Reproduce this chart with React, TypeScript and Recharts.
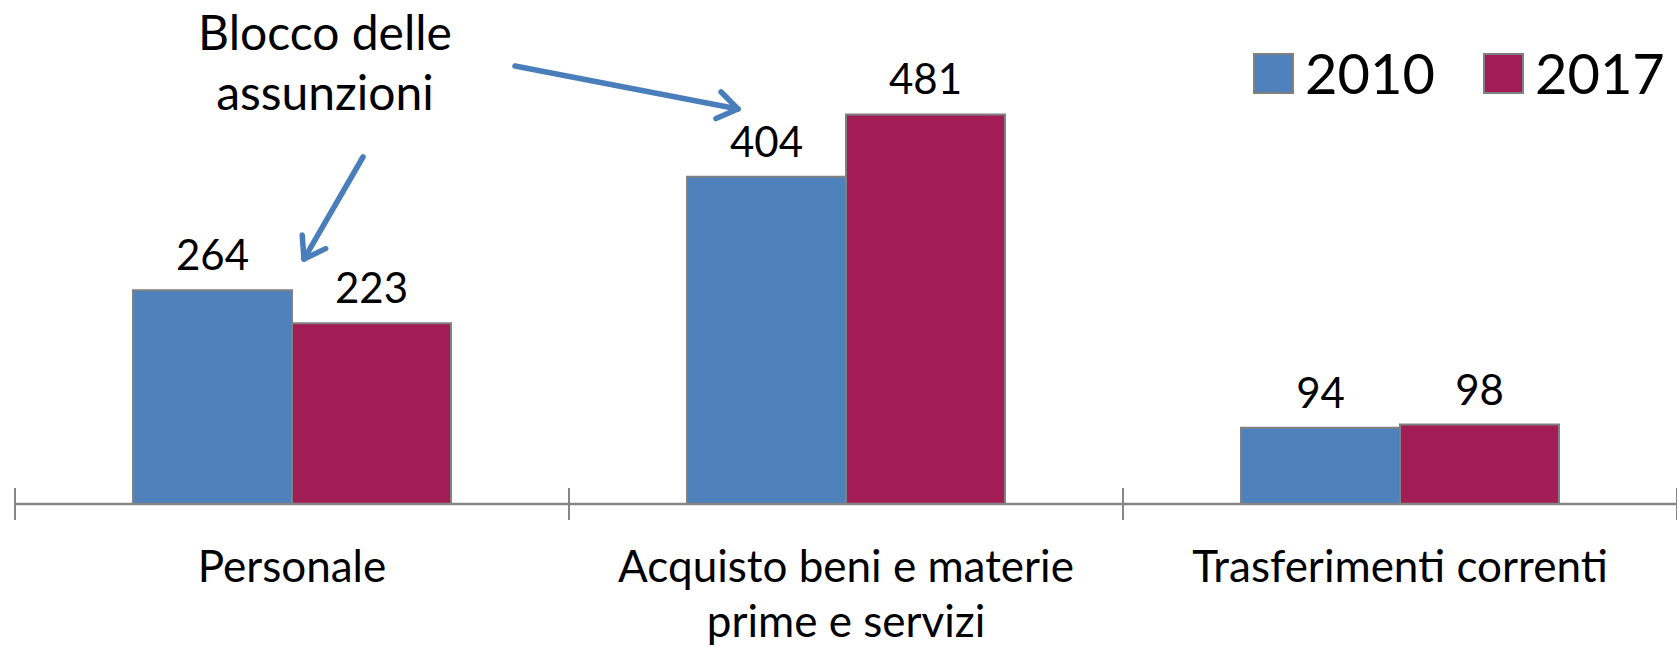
import { BarChart, Bar, XAxis, YAxis, LabelList, Legend } from 'recharts'

const CATEGORIES = ['Personale', 'Acquisto beni e materie prime e servizi', 'Trasferimenti correnti']
const VALUES_2010 = [264, 404, 94]
const VALUES_2017 = [223, 481, 98]
const SERIES = [
  { key: 'v2010', name: '2010', color: '#4F81BD' },
  { key: 'v2017', name: '2017', color: '#A21D56' }
]
const NOTE_LINES = ['Blocco delle', 'assunzioni']

const data = CATEGORIES.map((name, i) => ({
  name,
  v2010: VALUES_2010[i],
  v2017: VALUES_2017[i]
}))

const W = 1677
const H = 647
const MARGIN = { top: 18, right: 0, bottom: 0, left: 15 }
const BAND = (W - MARGIN.left - MARGIN.right) / CATEGORIES.length
const FONT = 'Lato, "Open Sans", sans-serif'
const AXIS_COLOR = '#868686'
const ARROW_COLOR = '#4A7EBB'
const CAT_FONT = 44
const MAX_CHARS = 24

// simple word wrap by character count
function wrap(label: string): string[] {
  const lines: string[] = []
  let cur = ''
  label.split(' ').forEach((w) => {
    const next = cur ? cur + ' ' + w : w
    if (next.length > MAX_CHARS && cur) {
      lines.push(cur)
      cur = w
    } else {
      cur = next
    }
  })
  if (cur) lines.push(cur)
  return lines
}

function CategoryTick(props: any) {
  const { x, y, payload, index } = props
  const half = BAND / 2
  const last = index === CATEGORIES.length - 1
  const lines = wrap(String(payload.value))
  return (
    <g>
      <line x1={x - half} x2={x - half} y1={y - 16} y2={y + 16} stroke={AXIS_COLOR} strokeWidth={2} />
      {last && (
        <line x1={x + half} x2={x + half} y1={y - 16} y2={y + 16} stroke={AXIS_COLOR} strokeWidth={2} />
      )}
      <text x={x} y={y + 78} textAnchor="middle" fontSize={CAT_FONT} fontFamily={FONT} fill="#000">
        {lines.map((l, i) => (
          <tspan key={i} x={x} dy={i === 0 ? 0 : 55}>
            {l}
          </tspan>
        ))}
      </text>
    </g>
  )
}

function LegendContent() {
  return (
    <div style={{ display: 'flex', alignItems: 'center', fontFamily: FONT, fontSize: 56, color: '#000' }}>
      {SERIES.map((s) => (
        <div key={s.key} style={{ display: 'flex', alignItems: 'center', marginRight: 48 }}>
          <span
            style={{
              display: 'inline-block',
              width: 37,
              height: 37,
              background: s.color,
              border: '2px solid #808080',
              marginRight: 11
            }}
          />
          <span style={{ lineHeight: 1 }}>{s.name}</span>
        </div>
      ))}
    </div>
  )
}

function Arrow({ x1, y1, x2, y2 }: { x1: number; y1: number; x2: number; y2: number }) {
  const a = Math.atan2(y2 - y1, x2 - x1)
  const len = 24
  const spread = 0.6
  const p1 = [x2 - len * Math.cos(a - spread), y2 - len * Math.sin(a - spread)]
  const p2 = [x2 - len * Math.cos(a + spread), y2 - len * Math.sin(a + spread)]
  return (
    <g stroke={ARROW_COLOR} strokeWidth={5.5} fill="none" strokeLinecap="round" strokeLinejoin="round">
      <line x1={x1} y1={y1} x2={x2} y2={y2} />
      <polyline points={`${p1[0]},${p1[1]} ${x2},${y2} ${p2[0]},${p2[1]}`} />
    </g>
  )
}

export default function App() {
  return (
    <div style={{ position: 'absolute', left: 0, top: 0, width: W, height: H, background: '#fff', overflow: 'hidden' }}>
      <BarChart width={W} height={H} data={data} margin={MARGIN} barCategoryGap="21.3%" barGap={0}>
        <XAxis
          dataKey="name"
          height={143}
          interval={0}
          tickSize={0}
          tickMargin={0}
          tickLine={false}
          axisLine={{ stroke: AXIS_COLOR, strokeWidth: 2.5 }}
          tick={<CategoryTick />}
        />
        <YAxis hide domain={[0, 600]} />
        <Legend
          layout="vertical"
          align="center"
          verticalAlign="middle"
          wrapperStyle={{ left: 1253, top: 45, width: 'auto' }}
          content={<LegendContent />}
        />
        {SERIES.map((s) => (
          <Bar
            key={s.key}
            dataKey={s.key}
            name={s.name}
            fill={s.color}
            stroke="#808080"
            strokeWidth={2}
            isAnimationActive={false}
          >
            <LabelList dataKey={s.key} position="top" offset={20} fontSize={42} fontFamily={FONT} fill="#000" />
          </Bar>
        ))}
      </BarChart>
      <svg width={W} height={H} style={{ position: 'absolute', left: 0, top: 0, pointerEvents: 'none' }}>
        {NOTE_LINES.map((t, i) => (
          <text
            key={t}
            x={325}
            y={50 + i * 60}
            textAnchor="middle"
            fontSize={48}
            fontFamily={FONT}
            fill="#000"
          >
            {t}
          </text>
        ))}
        <Arrow x1={515} y1={66} x2={738} y2={109} />
        <Arrow x1={363} y1={157} x2={304} y2={259} />
      </svg>
    </div>
  )
}
